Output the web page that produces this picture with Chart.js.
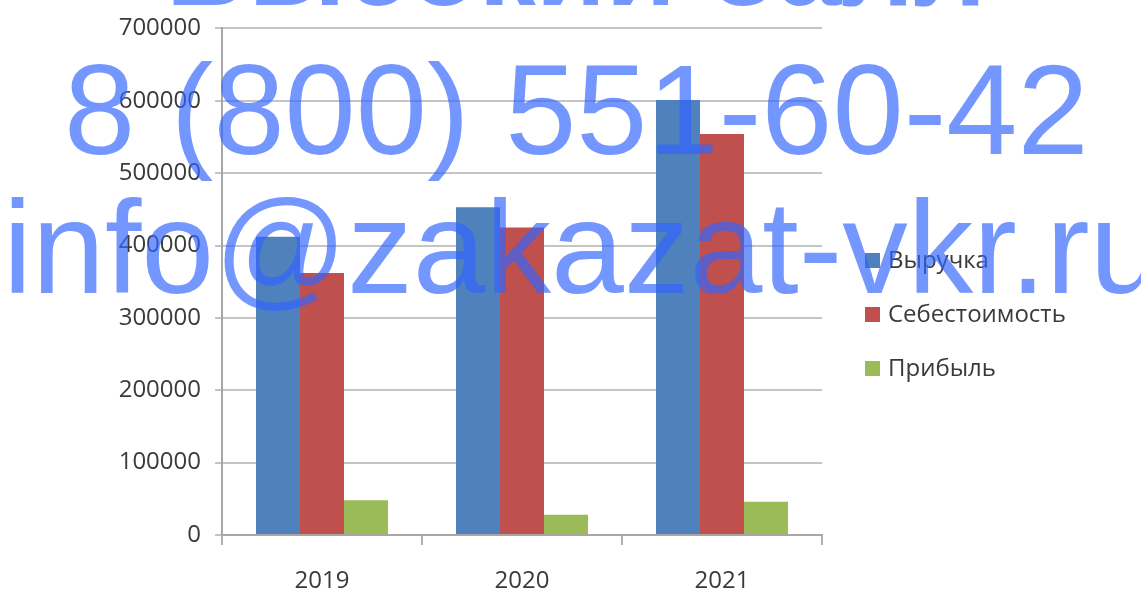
<!DOCTYPE html>
<html>
<head>
<meta charset="utf-8">
<script src="https://cdn.jsdelivr.net/npm/chart.js@4/dist/chart.umd.min.js"></script>
<style>
  html, body { margin: 0; padding: 0; background: #fff; }
  #wrap { position: relative; width: 1141px; height: 593px; overflow: hidden; }
  canvas { position: absolute; left: 0; top: 0; }
  #legend { position: absolute; left: 865px; top: 232px; font-family: "Open Sans", sans-serif; font-size: 24px; color: #3a3a3a; }
  #legend div { height: 54px; line-height: 54px; white-space: nowrap; }
  #legend span { display: inline-block; width: 15px; height: 15px; margin-right: 8px; vertical-align: 0px; }
  .wm { position: absolute; font-family: "Liberation Sans", Arial, sans-serif; color: rgba(50, 100, 255, 0.68); white-space: nowrap; pointer-events: none; line-height: 1; }
</style>
</head>
<body>
<div id="wrap">
  <canvas id="c" width="1141" height="593"></canvas>
  <div id="legend"></div>
  <div class="wm" style="left:166px; top:-91px; font-size:114px; font-weight:bold;">Высокий балл</div>
  <div class="wm" style="left:64px; top:46px; font-size:128px;">8 (800) 551-60-42</div>
  <div class="wm" style="left:3px; top:182px; font-size:131px;">info@zakazat-vkr.ru</div>
</div>
<script>
// данные диаграммы
const years = ['2019', '2020', '2021'];
const revenue = [412000, 453000, 601000];   // Выручка
const cost = [362000, 425000, 554000];      // Себестоимость
const profit = [48000, 28000, 46000];       // Прибыль
const seriesNames = ['Выручка', 'Себестоимость', 'Прибыль'];
const seriesColors = ['#4f81bd', '#c0504d', '#9bbb59'];

const datasets = [revenue, cost, profit].map((data, i) => ({
    label: seriesNames[i],
    data: data,
    backgroundColor: seriesColors[i],
    borderWidth: 0,
    categoryPercentage: 0.66,
    barPercentage: 1.0
}));

const tickFont = { family: '"Open Sans", sans-serif', size: 24 };

new Chart(document.getElementById('c'), {
    type: 'bar',
    data: { labels: years, datasets: datasets },
    options: {
        responsive: false,
        animation: false,
        layout: { padding: { top: 27, right: 319, left: 0, bottom: 0 } },
        plugins: { legend: { display: false }, tooltip: { enabled: false } },
        scales: {
            x: {
                grid: { display: true, drawOnChartArea: false, drawTicks: true, tickLength: 10, color: '#b0b0b0', lineWidth: 2, offset: true },
                border: { color: '#a6a6a6', width: 2 },
                ticks: { color: '#3a3a3a', font: tickFont, padding: 22 },
                afterFit: s => { s.height = 58; }
            },
            y: {
                min: 0,
                max: 700000,
                ticks: {
                    stepSize: 100000,
                    color: '#3a3a3a',
                    font: tickFont,
                    padding: 14,
                    callback: v => String(v)
                },
                grid: { color: '#c4c4c4', lineWidth: 2, drawTicks: true, tickLength: 7 },
                border: { color: '#a6a6a6', width: 2 },
                afterFit: s => { s.width = 222; }
            }
        }
    }
});

// легенда справа
const legend = document.getElementById('legend');
seriesNames.forEach((name, i) => {
    const row = document.createElement('div');
    row.innerHTML = '<span style="background:' + seriesColors[i] + '"></span>' + name;
    legend.appendChild(row);
});
</script>
</body>
</html>
